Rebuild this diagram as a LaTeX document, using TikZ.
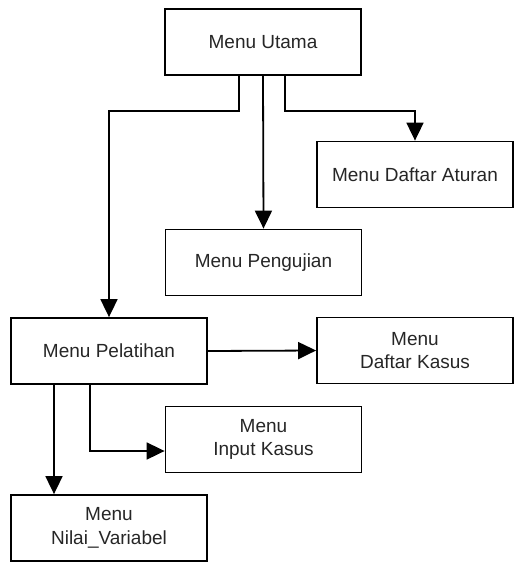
\documentclass[tikz,border=0pt]{standalone}
\usepackage{fontspec}
\setmainfont{Liberation Sans}
\usepackage{tikz}
\usetikzlibrary{arrows.meta}

\begin{document}
\begin{tikzpicture}[x=0.5pt, y=-0.5pt,
    box/.style={draw, line width=0.9pt, minimum width=98pt, minimum height=33pt, inner sep=0pt,
                align=center, text=black!85, font=\fontsize{9.5}{11.7}\selectfont},
    arr/.style={line width=0.9pt, -{Triangle[length=9pt, width=8.5pt]}}]
    \useasboundingbox (0,0) rectangle (515,563);
    \foreach \name/\x/\y/\txt in {utama/263/42/Menu Utama,
                                  aturan/415/174.5/Menu Daftar Aturan,
                                  pengujian/263.5/262.5/Menu Pengujian,
                                  pelatihan/109/351/Menu Pelatihan,
                                  kasus/415/350.5/Menu\\Daftar Kasus,
                                  input/263.5/439.5/Menu\\Input Kasus,
                                  nilai/109/528/Menu\\Nilai\_Variabel}
        \node[box] (\name) at (\x,\y) {\txt};
    \draw[arr] ([xshift=-12pt]utama.south) -- ++(0,35) -| (pelatihan.north);
    \draw[arr] (utama.south) -- (pengujian.north);
    \draw[arr] ([xshift=11pt]utama.south) -- ++(0,35) -| (aturan.north);
    \draw[arr] (pelatihan.east) -- (kasus.west);
    \draw[arr] ([xshift=-9.5pt]pelatihan.south) |- ([yshift=-5.75pt]input.west);
    \draw[arr] ([xshift=-27.5pt]pelatihan.south) -- ([xshift=-27.5pt]nilai.north);
\end{tikzpicture}
\end{document}
